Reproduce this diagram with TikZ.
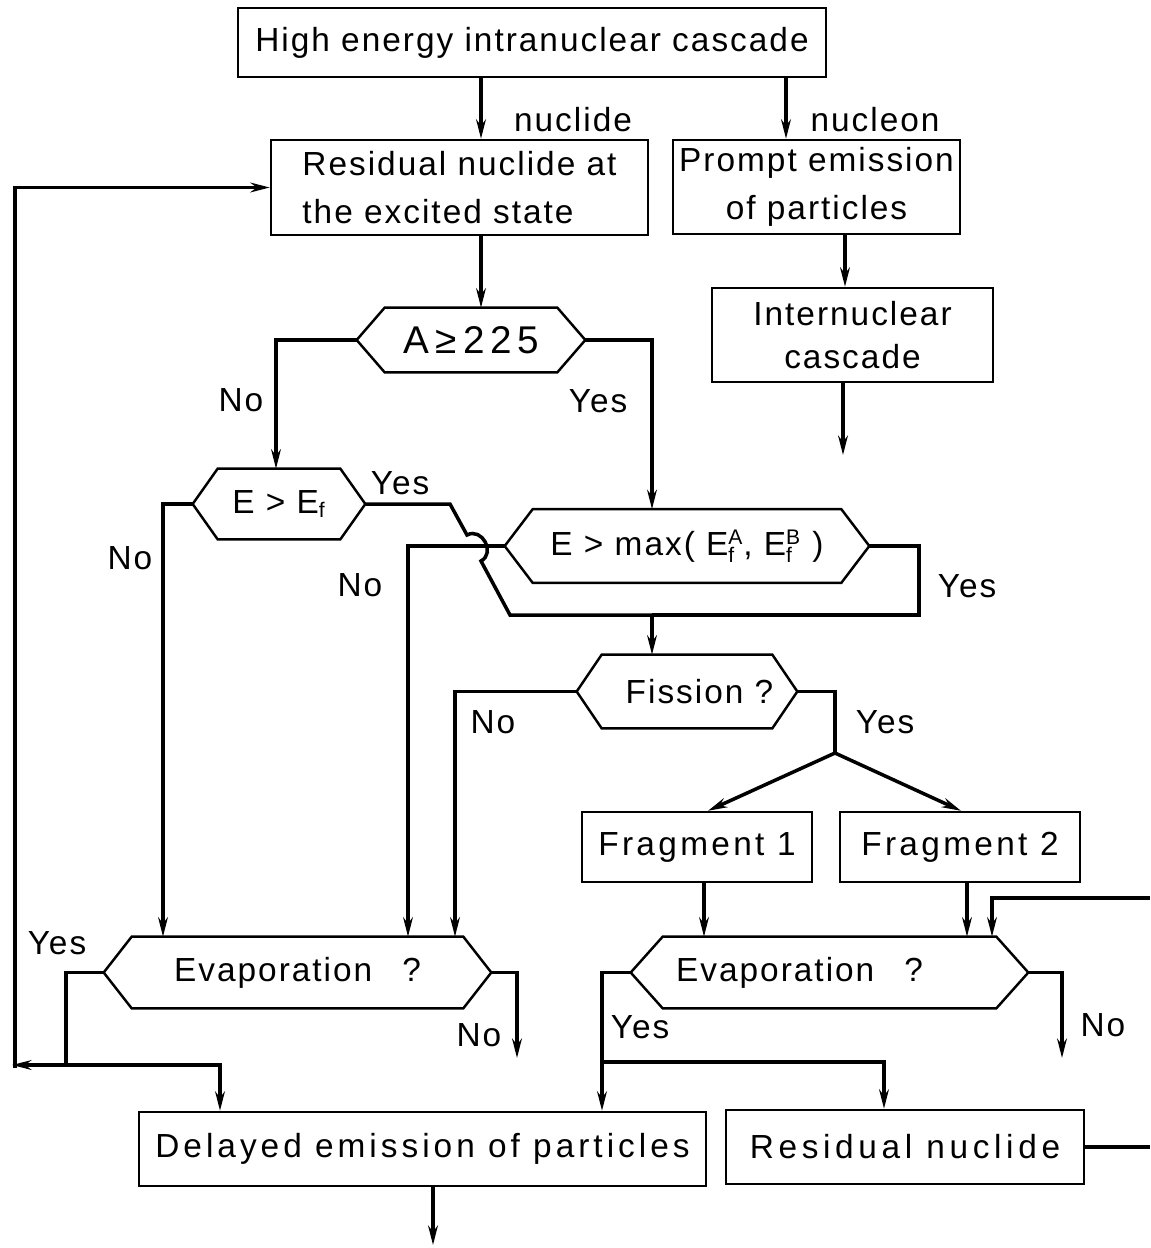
\documentclass[tikz,border=0pt]{standalone}
\usepackage{fontspec}
\setmainfont{Liberation Sans}[LetterSpace=6]
\usetikzlibrary{arrows.meta}
\newcommand{\mainsize}{\fontsize{19}{27}\selectfont}
\newcommand{\smallfs}{\fontsize{12}{12}\selectfont}
\newcommand{\Eab}[1]{E$^{\hbox{\smallfs #1}}_{\hbox{\smallfs f}}$}
\newcommand{\Ef}{E$_{\hbox{\smallfs f}}$}
\newcommand{\hexdraw}[2]{\draw[boxline] (#1.west) -- ([xshift=#2]#1.north west) -- ([xshift=-#2]#1.north east) -- (#1.east) -- ([xshift=-#2]#1.south east) -- ([xshift=#2]#1.south west) -- cycle;}
\tikzset{
  boxline/.style={line width=1.4pt, line join=miter},
  rbox/.style={draw, line width=1.4pt, inner sep=0pt, align=center, font=\mainsize},
  hexnode/.style={inner sep=0pt, font=\mainsize},
  con/.style={line width=2pt},
  arr/.style={line width=2pt, -{Stealth[length=11pt,width=5.5pt]}},
  lab/.style={inner sep=0pt, font=\mainsize},
}
\begin{document}
\begin{tikzpicture}[x=0.02cm,y=-0.02cm]
\useasboundingbox (0,0) rectangle (1150,1248);
% boxes
\node[rbox, minimum width=11.76cm, minimum height=1.38cm] (top) at (532,42.5) {High energy intranuclear cascade};
\node[rbox, minimum width=7.54cm, minimum height=1.9cm, align=left] (res) at (459.5,187.5) {Residual nuclide at\\the excited state};
\node[rbox, minimum width=5.74cm, minimum height=1.88cm] (prompt) at (816.5,187) {Prompt emission\\of particles};
\node[rbox, minimum width=5.62cm, minimum height=1.88cm, font=\fontsize{19}{24}\selectfont] (inter) at (852.5,335) {Internuclear\\cascade};
\node[rbox, minimum width=4.6cm, minimum height=1.4cm, font=\mainsize\addfontfeature{LetterSpace=10}] (frag1) at (697,847) {Fragment 1};
\node[rbox, minimum width=4.8cm, minimum height=1.4cm, font=\mainsize\addfontfeature{LetterSpace=10}] (frag2) at (960,847) {Fragment 2};
\node[rbox, minimum width=11.34cm, minimum height=1.48cm, font=\mainsize\addfontfeature{LetterSpace=12}] (delayed) at (422.5,1149) {Delayed emission of particles};
\node[rbox, minimum width=7.16cm, minimum height=1.48cm, font=\mainsize\addfontfeature{LetterSpace=14}] (resn) at (905,1147) {Residual nuclide};
% decision hexagons
\node[hexnode, minimum width=4.56cm, minimum height=1.28cm, font=\fontsize{22}{24}\selectfont\addfontfeature{LetterSpace=14}] (dA) at (471,340) {A\,≥\,225};
\node[hexnode, minimum width=3.44cm, minimum height=1.4cm] (dE) at (279,504) {E > \Ef};
\node[hexnode, minimum width=7.28cm, minimum height=1.46cm] (dM) at (687,546) {E > max( \Eab{A}, \Eab{B} )};
\node[hexnode, minimum width=4.4cm, minimum height=1.46cm] (dF) at (687,691.5) {\hspace*{0.5cm}Fission ?};
\node[hexnode, minimum width=7.74cm, minimum height=1.42cm] (evL) at (297.5,972.5) {Evaporation\hspace{0.6cm}?};
\node[hexnode, minimum width=7.94cm, minimum height=1.42cm] (evR) at (829.5,972.5) {Evaporation\hspace{0.6cm}?\hspace*{1.2cm}};
\hexdraw{dA}{0.56cm}
\hexdraw{dE}{0.5cm}
\hexdraw{dM}{0.56cm}
\hexdraw{dF}{0.5cm}
\hexdraw{evL}{0.56cm}
\hexdraw{evR}{0.64cm}
% coordinates
\coordinate (j1) at (652,615);
\coordinate (sp) at (835,753);
\coordinate (yL) at (66,1065);
\coordinate (yR) at (602,1062);
\coordinate (interEnd) at (843,455);
\coordinate (noL) at (517,1058);
\coordinate (noR) at (1062,1058);
\coordinate (outEnd) at (433,1245);
\coordinate (rightIn) at (1150,898);
\coordinate (rightOut) at (1150,1147);
% connectors
\draw[arr] (481,0 |- top.south) -- (481,0 |- res.north);
\draw[arr] (786,0 |- top.south) -- (786,0 |- prompt.north);
\draw[arr] (845,0 |- prompt.south) -- (845,0 |- inter.north);
\draw[arr] (843,0 |- inter.south) -- (interEnd);
\draw[arr] (481,0 |- res.south) -- (481,0 |- dA.north);
\draw[arr] (dA.west) -| (276,0 |- dE.north);
\draw[arr] (dA.east) -| (652,0 |- dM.north);
\draw[arr] (dE.west) -| (163,0 |- evL.north);
\draw[con] (dE.east) -- (450,0 |- dE.east) -- (467,535) .. controls (482,527) and (496,553) .. (481,561) -- (510,615) -- (j1);
\draw[con] (dM.east) -- (919,0 |- dM.east) -- (919,615) -- (j1);
\draw[arr] (dM.west) -| (408,0 |- evL.north);
\draw[arr] (j1) -- (652,0 |- dF.north);
\draw[arr] (dF.west) -| (455,0 |- evL.north);
\draw[con] (dF.east) -| (sp);
\draw[arr] (sp) -- (708,0 |- frag1.north);
\draw[arr] (sp) -- (961,0 |- frag2.north);
\draw[arr] (704,0 |- frag1.south) -- (704,0 |- evR.north);
\draw[arr] (967,0 |- frag2.south) -- (967,0 |- evR.north);
\draw[arr] (rightIn) -- (992,898) -- (992,0 |- evR.north);
\draw[con] (evL.west) -| (yL);
\draw[arr] (yL) -- (12,1065);
\draw[arr] (15,1068) -- (15,0 |- res.west) -- (res.west);
\draw[arr] (yL) -- (220,1065) -- (220,0 |- delayed.north);
\draw[arr] (evL.east) -| (noL);
\draw[arr] (evR.west) -| (602,0 |- delayed.north);
\draw[arr] (yR) -- (884,1062) -- (884,0 |- resn.north);
\draw[arr] (evR.east) -| (noR);
\draw[con] (resn.east) -- (rightOut);
\draw[arr] (433,0 |- delayed.south) -- (outEnd);
% labels
\node[lab] (l1) at (573,120) {nuclide};
\node[lab] (l2) at (875,120) {nucleon};
\node[lab] (l3) at (241,400) {No};
\node[lab] (l4) at (598,401) {Yes};
\node[lab] (l5) at (400,483) {Yes};
\node[lab] (l6) at (130,558) {No};
\node[lab] (l7) at (360,585) {No};
\node[lab] (l8) at (967,586) {Yes};
\node[lab] (l9) at (493,722) {No};
\node[lab] (l10) at (885,722) {Yes};
\node[lab] (l11) at (57,943) {Yes};
\node[lab] (l12) at (479,1035) {No};
\node[lab] (l13) at (640,1027) {Yes};
\node[lab] (l14) at (1103,1025) {No};
\end{tikzpicture}
\end{document}
